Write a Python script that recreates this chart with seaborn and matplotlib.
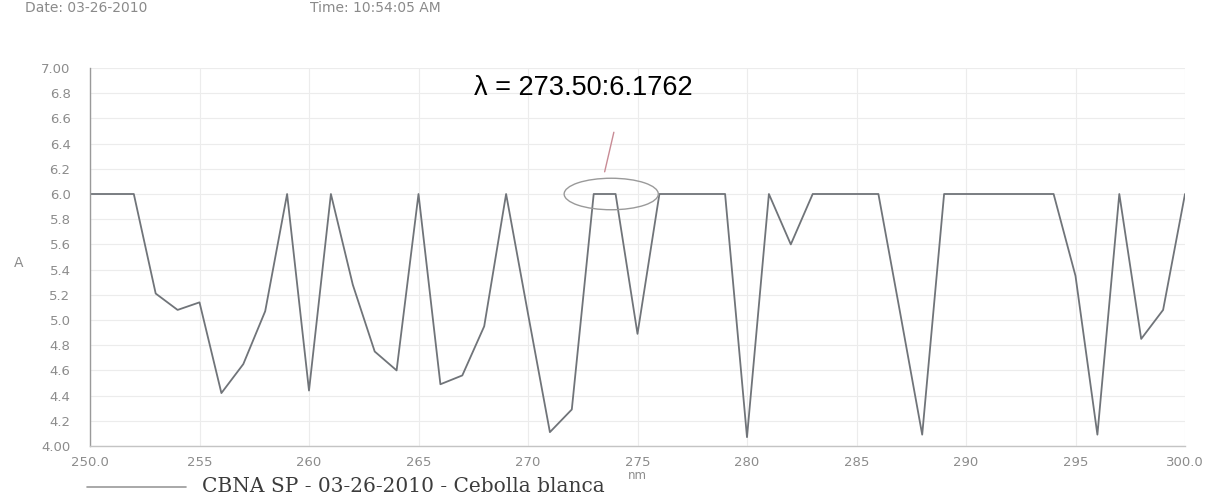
import matplotlib
matplotlib.use("Agg")
import matplotlib.pyplot as plt
from matplotlib.patches import Ellipse
import numpy as np
import pandas as pd
import seaborn as sns

# Absorbance scan, one reading per nm
wavelength_nm = list(range(250, 301))
absorbance = [
    6.00, 6.00, 6.00, 5.21, 5.08, 5.14, 4.42, 4.65, 5.07, 6.00,   # 250-259
    4.44, 6.00, 5.28, 4.75, 4.60, 6.00, 4.49, 4.56, 4.95, 6.00,   # 260-269
    5.05, 4.11, 4.29, 6.00, 6.00, 4.89, 6.00, 6.00, 6.00, 6.00,   # 270-279
    4.07, 6.00, 5.60, 6.00, 6.00, 6.00, 6.00, 5.05, 4.09, 6.00,   # 280-289
    6.00, 6.00, 6.00, 6.00, 6.00, 5.35, 4.09, 6.00, 4.85, 5.08,   # 290-299
    6.00,                                                         # 300
]

x_ticks = [250, 255, 260, 265, 270, 275, 280, 285, 290, 295, 300]
x_tick_labels = ["250.0", "255", "260", "265", "270", "275", "280", "285", "290", "295", "300.0"]
y_ticks = [4.0, 4.2, 4.4, 4.6, 4.8, 5.0, 5.2, 5.4, 5.6, 5.8, 6.0, 6.2, 6.4, 6.6, 6.8, 7.0]
y_tick_labels = ["4.00", "4.2", "4.4", "4.6", "4.8", "5.0", "5.2", "5.4", "5.6", "5.8",
                 "6.0", "6.2", "6.4", "6.6", "6.8", "7.00"]

peak_x = 273.50
peak_y = 6.1762
series_name = "CBNA SP - 03-26-2010 - Cebolla blanca"

sns.set_theme(style="whitegrid")
plt.rcParams["font.family"] = ["DejaVu Sans"]

df = pd.DataFrame({"nm": wavelength_nm, "A": absorbance})

W, H = 1213, 496
fig = plt.figure(figsize=(W / 100, H / 100), dpi=100)
ax = fig.add_axes([90 / W, 1 - 446 / H, (1185 - 90) / W, (446 - 68) / H])

line_color = "#707479"
sns.lineplot(data=df, x="nm", y="A", ax=ax, color=line_color, linewidth=1.3)

ax.set_xlim(250, 300)
ax.set_ylim(4.0, 7.0)
ax.set_xticks(x_ticks)
ax.set_xticklabels(x_tick_labels)
ax.set_yticks(y_ticks)
ax.set_yticklabels(y_tick_labels)

tick_color = "#8c8c8c"
ax.tick_params(axis="both", colors="#b0b0b0", labelcolor=tick_color, labelsize=9.5,
               direction="out", length=5, width=0.8)
ax.tick_params(axis="x", pad=2)
ax.tick_params(axis="y", pad=9)
ax.grid(True, color="#ececec", linewidth=0.8)
ax.set_facecolor("white")
for side in ("top", "right"):
    ax.spines[side].set_visible(False)
ax.spines["left"].set_color("#9a9a9a")
ax.spines["bottom"].set_color("#c4c4c4")
ax.spines["left"].set_linewidth(1.0)
ax.spines["bottom"].set_linewidth(1.0)

ax.set_xlabel("nm", color=tick_color, fontsize=8.5, labelpad=0)
ax.set_ylabel("A", color=tick_color, fontsize=10, rotation=0, va="center", ha="center")
ax.yaxis.set_label_coords(-(90 - 19) / (1185 - 90), (446 - 263) / (446 - 68))

# Peak marker: ellipse around the flat top, with a leader line to the readout
ax.add_patch(Ellipse((273.8, 6.0), width=4.3, height=0.25, fill=False,
                     edgecolor="#9a9a9a", linewidth=1.0, zorder=3))
ax.annotate(f"\u03bb = {peak_x:.2f}:{peak_y:.4f}", xy=(peak_x, peak_y),
            xytext=(474, H - 88), textcoords="figure pixels",
            ha="left", va="center", fontsize=19.5, color="black",
            family="Liberation Sans", annotation_clip=False)
ax.plot([peak_x, peak_x + 0.42], [peak_y, 6.49], color="#c88b95", linewidth=1.0)

# Legend row under the axis
fig.add_artist(plt.Line2D([87 / W, 186 / W], [1 - 487 / H, 1 - 487 / H],
                          color="#9a9a9a", linewidth=1.2))
fig.text(202 / W, 1 - 486 / H, series_name, fontsize=14.5, family="DejaVu Serif",
         color="#3c3c3c", va="center", ha="left")

# Header line, partly cut off at the top edge
fig.text(25 / W, 1 - 8 / H, "Date: 03-26-2010", fontsize=10, color="#8a8a8a",
         va="center", ha="left")
fig.text(310 / W, 1 - 8 / H, "Time: 10:54:05 AM", fontsize=10, color="#8a8a8a",
         va="center", ha="left")

fig.savefig("out.png", dpi=100, facecolor="white")
